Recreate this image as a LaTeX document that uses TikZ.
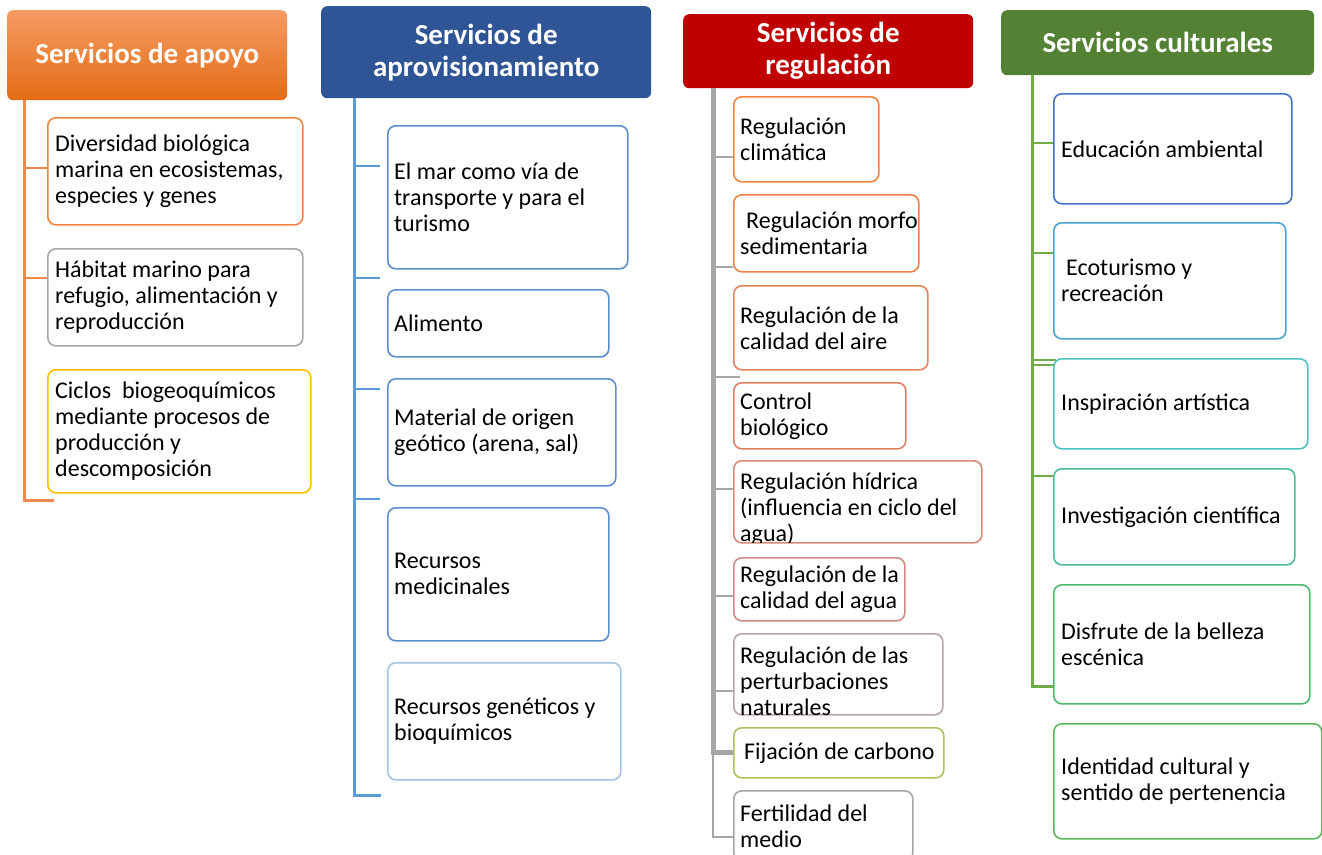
\documentclass[tikz,border=0pt]{standalone}
\usepackage{fontspec}
\setmainfont{Carlito}
\usepackage{xcolor}
\usepackage{tikz}

\definecolor{narA}{HTML}{F59B63}
\definecolor{narB}{HTML}{E46C14}
\definecolor{narLinea}{HTML}{F0894A}
\definecolor{amarillo}{HTML}{FFC000}
\definecolor{azulTit}{HTML}{2F5597}
\definecolor{azulLinea}{HTML}{5B9BD5}
\definecolor{azulCaja}{HTML}{5B8FCB}
\definecolor{azulClaro}{HTML}{A6C3E6}
\definecolor{rojoTit}{HTML}{C00000}
\definecolor{grisLinea}{HTML}{A6A6A6}
\definecolor{reg1}{HTML}{F0853F}
\definecolor{reg2}{HTML}{EC8245}
\definecolor{reg3}{HTML}{E4845A}
\definecolor{reg4}{HTML}{DE8064}
\definecolor{reg5}{HTML}{D98A74}
\definecolor{reg6}{HTML}{CF8A84}
\definecolor{reg7}{HTML}{B8A4A4}
\definecolor{reg8}{HTML}{A9C45E}
\definecolor{verdeTit}{HTML}{548235}
\definecolor{verdeLinea}{HTML}{70AD47}
\definecolor{cul1}{HTML}{4472C4}
\definecolor{cul2}{HTML}{4BA5CF}
\definecolor{cul3}{HTML}{4EC3C3}
\definecolor{cul4}{HTML}{4BBD9A}
\definecolor{cul5}{HTML}{4CBA6C}
\definecolor{cul6}{HTML}{5BB85A}

\tikzset{
  titulo/.style  = {rounded corners=6pt, text=white, align=center, anchor=north west, inner sep=0pt,
                    font=\fontsize{29}{32}\selectfont\bfseries},
  hoja/.style    = {draw=#1, fill=white, rounded corners=8pt, line width=1.6pt, anchor=north west, inner sep=0pt},
  texto/.style   = {font=\fontsize{24}{26}\selectfont, align=left, anchor=west, inner sep=0pt},
  tronco/.style  = {draw=#1, line width=3pt},
  rama/.style    = {draw=#1, line width=2pt},
}

\begin{document}
\begin{tikzpicture}[x=1pt,y=-1pt]
  \useasboundingbox[fill=white] (0,0) rectangle (1322,854);

  % --- servicios de apoyo
  \node[titulo, top color=narA, bottom color=narB, minimum width=280, minimum height=90] (tApoyo) at (7,10) {Servicios de apoyo};
  \coordinate (aFin) at (54,500);
  \draw[tronco=narLinea] ([xshift=17pt]tApoyo.south west) |- (aFin);
  \foreach \y in {168,278} {
    \draw[rama=narLinea] (24,\y) -- (47,\y);
  }
  \foreach \n/\y/\w/\h/\c/\t in {%
    a1/117/255/107/reg1/{Diversidad biológica\\marina en ecosistemas,\\especies y genes},
    a2/248/255/97/grisLinea/{Hábitat marino para\\refugio, alimentación y\\reproducción},
    a3/369/263/123/amarillo/{Ciclos\ \ biogeoquímicos\\mediante procesos de\\producción y\\descomposición}}
  {
    \node[hoja=\c, minimum width=\w, minimum height=\h] (\n) at (47,\y) {};
    \node[texto] (\n-t) at ([xshift=8pt]\n.west) {\t};
  }

  % --- servicios de aprovisionamiento
  \node[titulo, fill=azulTit, minimum width=330, minimum height=92] (tAprov) at (321,6) {Servicios de\\aprovisionamiento};
  \coordinate (bFin) at (381,795);
  \draw[tronco=azulLinea] ([xshift=33pt]tAprov.south west) |- (bFin);
  \foreach \y in {166,278,389,499} {
    \draw[rama=azulLinea] (354,\y) -- (380,\y);
  }
  \foreach \n/\y/\w/\h/\c/\t in {%
    b1/125/240/143/azulCaja/{El mar como vía de\\transporte y para el\\turismo},
    b2/289/221/67/azulCaja/{Alimento},
    b3/378/228/107/azulCaja/{Material de origen\\geótico (arena, sal)},
    b4/507/221/133/azulCaja/{Recursos\\medicinales},
    b5/662/233/117/azulClaro/{Recursos genéticos y\\bioquímicos}}
  {
    \node[hoja=\c, minimum width=\w, minimum height=\h] (\n) at (387,\y) {};
    \node[texto] (\n-t) at ([xshift=7pt]\n.west) {\t};
  }

  % --- servicios de regulacion
  \node[titulo, fill=rojoTit, minimum width=290, minimum height=74] (tRegul) at (683,14) {Servicios de\\regulación};
  \coordinate (cGrueso) at (733,752);
  \coordinate (cFin) at (733,837);
  \draw[rama=grisLinea] ([xshift=30pt]tRegul.south west) |- (cFin);
  \draw[grisLinea, line width=5pt] ([xshift=30pt]tRegul.south west) |- (cGrueso);
  \foreach \y/\l in {157/733,267/733,377/740,489/733,596/733,691/733} {
    \draw[rama=grisLinea] (713,\y) -- (\l,\y);
  }
  % texto recortado por el borde inferior en c5 y c7
  \foreach \n/\y/\w/\h/\c/\d/\t in {%
    c1/96/145/85/reg1/0/{Regulación\\climática},
    c2/194/185/77/reg2/0/{\hspace{6pt}Regulación morfo\\sedimentaria},
    c3/285/194/84/reg3/0/{Regulación de la\\calidad del aire},
    c4/382/172/66/reg4/0/{Control\\biológico},
    c5/460/248/82/reg5/-7/{Regulación hídrica\\(influencia en ciclo del\\agua)},
    c6/557/171/63/reg6/0/{Regulación de la\\calidad del agua},
    c7/633/209/81/reg7/-7/{Regulación de las\\perturbaciones\\naturales},
    c8/727/210/50/reg8/0/{\hspace{4pt}Fijación de carbono},
    c9/790/179/70/grisLinea/0/{Fertilidad del\\medio}}
  {
    \node[hoja=\c, minimum width=\w, minimum height=\h] (\n) at (733,\y) {};
    \begin{scope}
      \clip ([xshift=-20pt]\n.north west) rectangle ([xshift=20pt,yshift=0.8pt]\n.south east);
      \node[texto] (\n-t) at ([xshift=7pt,yshift=\d pt]\n.west) {\t};
    \end{scope}
  }

  % --- servicios culturales
  \node[titulo, fill=verdeTit, minimum width=313, minimum height=65] (tCult) at (1001,10) {Servicios culturales};
  \coordinate (dFin) at (1053,686);
  \draw[tronco=verdeLinea] ([xshift=31pt]tCult.south west) |- (dFin);
  \foreach \y/\l in {143/1053,253/1053,360/1056,365/1056,476/1053} {
    \draw[rama=verdeLinea] (1032,\y) -- (\l,\y);
  }
  \foreach \n/\y/\w/\h/\c/\t in {%
    d1/93/238/110/cul1/{Educación ambiental},
    d2/222/232/116/cul2/{\hspace{5pt}Ecoturismo y\\recreación},
    d3/358/254/90/cul3/{Inspiración artística},
    d4/468/241/96/cul4/{Investigación científica},
    d5/584/256/119/cul5/{Disfrute de la belleza\\escénica},
    d6/723/268/115/cul6/{Identidad cultural y\\sentido de pertenencia}}
  {
    \node[hoja=\c, minimum width=\w, minimum height=\h] (\n) at (1053,\y) {};
    \node[texto] (\n-t) at ([xshift=8pt]\n.west) {\t};
  }
\end{tikzpicture}
\end{document}
